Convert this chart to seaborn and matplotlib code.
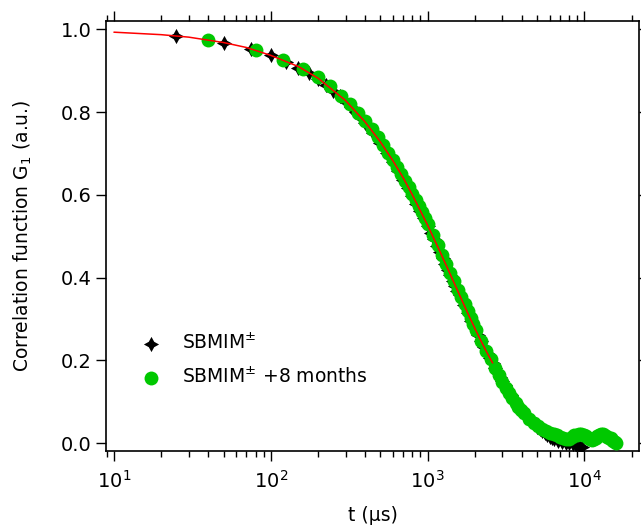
import matplotlib
matplotlib.use("Agg")
import matplotlib.pyplot as plt
from matplotlib.ticker import LogLocator, FixedLocator, NullFormatter
import seaborn as sns
import pandas as pd

# ---- data ----
t_black = [25, 50, 75, 100, 125, 150, 175, 200, 225, 250, 275, 300, 325, 350, 375, 400,
           450, 500, 550, 600, 650, 700, 750, 800, 850, 900, 950, 1000, 1050, 1100, 1150,
           1200, 1250, 1300, 1350, 1400, 1450, 1500, 1550, 1600,
           1700, 1800, 1900, 2000, 2100, 2200, 2300, 2400, 2500, 2600, 2700, 2800, 2900,
           3000, 3100, 3200,
           3400, 3600, 3800, 4000, 4200, 4400, 4600, 4800, 5000, 5200, 5400, 5600, 5800,
           6000, 6200, 6400,
           6800, 7200, 7600, 8000, 8400, 8800, 9200, 9600]
g_black = [0.984, 0.967, 0.952, 0.937, 0.922, 0.907, 0.895, 0.879, 0.866, 0.852, 0.838,
           0.825, 0.812, 0.799, 0.786, 0.773,
           0.749, 0.725, 0.702, 0.680, 0.658, 0.637, 0.617, 0.598, 0.579, 0.561, 0.543,
           0.526, 0.509, 0.493, 0.477, 0.462, 0.447, 0.433, 0.419, 0.406, 0.393, 0.381,
           0.369, 0.357,
           0.335, 0.315, 0.296, 0.279, 0.262, 0.247, 0.232, 0.219, 0.205, 0.193, 0.181,
           0.170, 0.160, 0.150, 0.141, 0.132,
           0.117, 0.103, 0.091, 0.080, 0.070, 0.061, 0.053, 0.046, 0.040, 0.034, 0.029,
           0.024, 0.020, 0.016, 0.013, 0.010,
           0.006, 0.003, 0.001, 0.000, -0.002, -0.004, -0.006, -0.008]

t_green = [40, 80, 120, 160, 200, 240, 280, 320, 360, 400, 440, 480, 520, 560, 600, 640,
           680, 720, 760, 800, 840, 880, 920, 960, 1000,
           1080, 1160, 1240, 1320, 1400, 1480, 1560, 1640, 1720, 1800, 1880, 1960, 2040,
           2200, 2360, 2520, 2680, 2840, 3000, 3160, 3320, 3480, 3640, 3800, 3960, 4120,
           4440, 4760, 5080, 5400, 5720, 6040, 6360, 6680, 7000, 7320, 7640, 7960, 8280,
           8600, 8920, 9240, 9560, 9880, 10200, 10520, 10840, 11160, 11480, 11800, 12120,
           12440, 12760, 13080, 13400, 13720, 14040, 14360, 14680, 15000, 15320, 15640,
           15960]
g_green = [0.974, 0.950, 0.927, 0.905, 0.884, 0.862, 0.840, 0.819, 0.798, 0.778, 0.758,
           0.739, 0.720, 0.702, 0.684, 0.667, 0.650, 0.634, 0.618, 0.602, 0.587, 0.572,
           0.558, 0.544, 0.530,
           0.504, 0.479, 0.455, 0.433, 0.411, 0.391, 0.371, 0.353, 0.336, 0.319, 0.303,
           0.288, 0.274,
           0.248, 0.224, 0.203, 0.183, 0.165, 0.148, 0.134, 0.121, 0.109, 0.098, 0.088,
           0.080, 0.072,
           0.059, 0.049, 0.041, 0.034, 0.029, 0.025, 0.022, 0.020, 0.016, 0.013, 0.010,
           0.011, 0.015, 0.019, 0.021, 0.022, 0.022, 0.021, 0.018, 0.014, 0.011, 0.009,
           0.010, 0.013, 0.017, 0.021, 0.022, 0.022, 0.020, 0.018, 0.016, 0.014, 0.012,
           0.009, 0.006, 0.003, 0.001]

t_fit = [10, 20, 30, 50, 70, 100, 150, 200, 300, 400, 500, 600, 700, 800, 1000, 1200,
         1400, 1600, 1800, 2000, 2200, 2400, 2600]
g_fit = [0.993, 0.987, 0.981, 0.968, 0.956, 0.937, 0.910, 0.882, 0.828, 0.776, 0.728,
         0.683, 0.641, 0.600, 0.527, 0.463, 0.407, 0.358, 0.315, 0.278, 0.246, 0.218, 0.194]

label_black = "SBMIM$^{\\pm}$"
label_green = "SBMIM$^{\\pm}$ +8 months"
xlabel = "t (µs)"
ylabel = "Correlation function G$_1$ (a.u.)"
y_ticks = [0.0, 0.2, 0.4, 0.6, 0.8, 1.0]

df_black = pd.DataFrame({"t": t_black, "g": g_black})
df_green = pd.DataFrame({"t": t_green, "g": g_green})
df_fit = pd.DataFrame({"t": t_fit, "g": g_fit})

sns.set_style("ticks")
plt.rcParams["font.family"] = ["DejaVu Sans"]
plt.rcParams["mathtext.fontset"] = "dejavusans"
for k in ["text.color", "axes.labelcolor", "xtick.color", "ytick.color", "axes.edgecolor"]:
    plt.rcParams[k] = "black"

fig = plt.figure(figsize=(6.41, 5.27), dpi=100)
ax = fig.add_axes([106 / 641, 1 - 451 / 527, 533 / 641, 430 / 527])

sns.scatterplot(data=df_black, x="t", y="g", ax=ax, marker=(4, 1, 0), s=120,
                color="black", linewidth=0, label=label_black, zorder=2)
sns.scatterplot(data=df_green, x="t", y="g", ax=ax, marker="o", s=100,
                color="#00c800", linewidth=0, label=label_green, zorder=3)
sns.lineplot(data=df_fit, x="t", y="g", ax=ax, color="#ff0000", linewidth=1.1,
             legend=False, zorder=4, sort=True)

ax.set_xscale("log")
ax.set_xlim(8.9, 22300)
ax.set_ylim(-0.0186, 1.02)

ax.yaxis.set_major_locator(FixedLocator(y_ticks))
ax.set_yticklabels([f"{v:.1f}" for v in y_ticks])
ax.xaxis.set_major_locator(LogLocator(base=10, numticks=10))
ax.xaxis.set_minor_locator(LogLocator(base=10, subs=range(2, 10), numticks=20))
ax.xaxis.set_minor_formatter(NullFormatter())

for s in ax.spines.values():
    s.set_visible(True)
    s.set_linewidth(1.2)
    s.set_color("black")

ax.tick_params(axis="x", which="major", direction="out", length=7.5, width=1.0,
               top=True, bottom=True, labelsize=14, pad=6)
ax.tick_params(axis="x", which="minor", direction="out", length=4.5, width=1.0,
               top=True, bottom=True)
ax.tick_params(axis="y", which="major", direction="out", length=7.5, width=1.0,
               left=True, right=True, labelsize=14, pad=3)

ax.set_xlabel(xlabel, fontsize=13.5, labelpad=10)
ax.set_ylabel(ylabel, fontsize=13.5, labelpad=19)

leg = ax.legend(loc="center left", bbox_to_anchor=(0.066, 0.212), frameon=False,
                fontsize=13.5, handlelength=1.0, handletextpad=1.2,
                borderpad=0, borderaxespad=0, labelspacing=0.7, markerscale=1.0)

fig.savefig("out.png", dpi=100)
